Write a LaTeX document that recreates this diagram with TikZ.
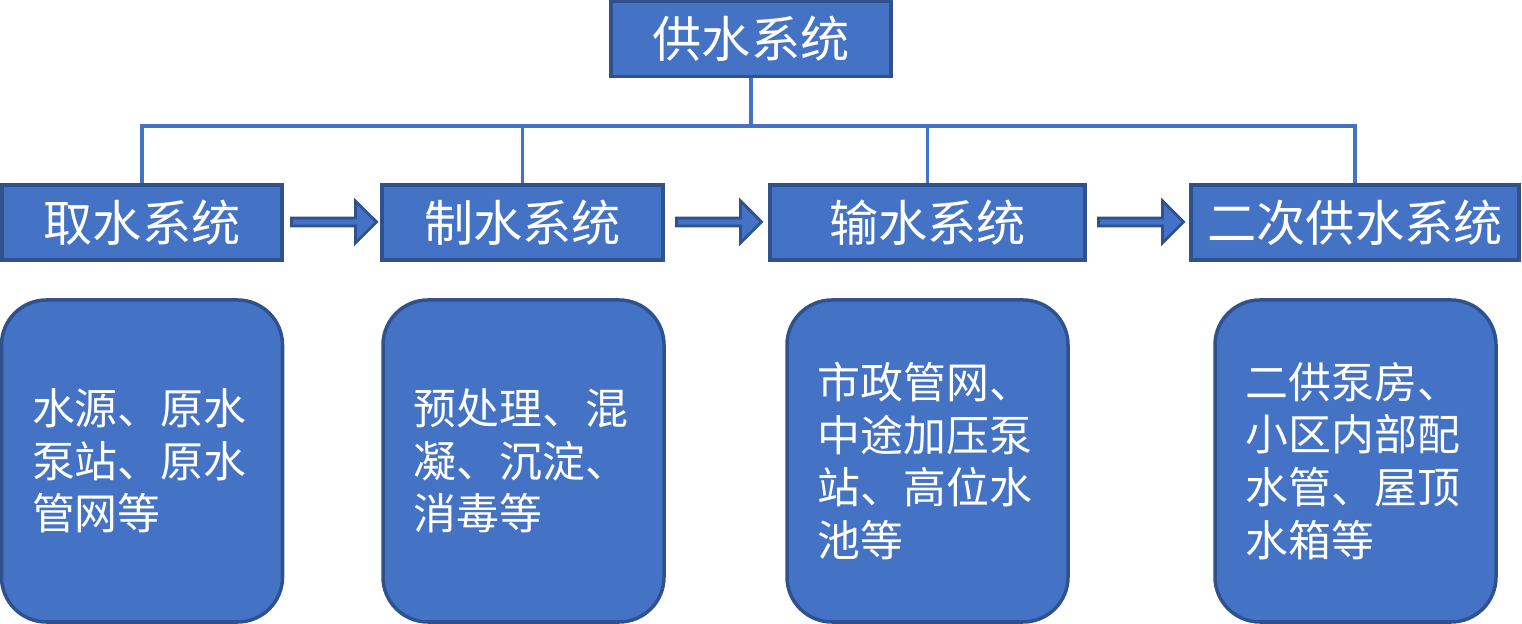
\documentclass[tikz,border=0pt]{standalone}
\usepackage{fontspec}
\newfontfamily\cjk{Noto Sans CJK SC}
\usetikzlibrary{positioning, shapes.arrows}
\definecolor{boxblue}{HTML}{4472C4}
\definecolor{edgeblue}{HTML}{2F528F}
\begin{document}
\begin{tikzpicture}[font=\cjk, sys node/.style={rectangle, draw=edgeblue, fill=boxblue, line width=1pt, text=white, minimum height=0.75cm, inner sep=0pt, font=\cjk\fontsize{14pt}{16pt}\selectfont},
    info node/.style={rectangle, rounded corners=0.45cm, draw=edgeblue, fill=boxblue, line width=1pt, text=white, minimum width=2.81cm, minimum height=3.22cm, text width=2.2cm, align=left, font=\cjk\fontsize{12.2pt}{15pt}\selectfont},
    flow arrow/.style={single arrow, draw=edgeblue, fill=boxblue, line width=0.8pt, minimum height=0.85cm, minimum width=0.42cm, single arrow head extend=0.06cm, inner sep=0pt},
    bus line/.style={draw=boxblue, line width=0.9pt}]
\useasboundingbox (0,0) rectangle (15.22,6.24);
\node[sys node, minimum width=2.8cm] (top) at (7.51,5.85) {供水系统};
\coordinate (bus) at (7.51,4.98);
\node[sys node, minimum width=2.8cm] (qu) at (1.42,4.015) {取水系统};
\node[sys node, minimum width=2.81cm] (zhi) at (5.225,4.015) {制水系统};
\node[sys node, minimum width=3.15cm] (shu) at (9.275,4.015) {输水系统};
\node[sys node, minimum width=3.28cm] (erci) at (13.55,4.015) {二次供水系统};
\draw[bus line] (top.south) -- (bus);
\foreach \n in {qu, zhi, shu, erci}
    \draw[bus line] (\n.north) |- (bus);
\node[flow arrow] (a1) at (3.32,4.02) {};
\node[flow arrow] (a2) at (7.17,4.02) {};
\node[flow arrow] (a3) at (11.39,4.02) {};
\node[info node] (qu info) at (1.42,1.63) {水源、原水\\泵站、原水\\管网等};
\node[info node] (zhi info) at (5.235,1.63) {预处理、混\\凝、沉淀、\\消毒等};
\node[info node] (shu info) at (9.275,1.63) {市政管网、\\中途加压泵\\站、高位水\\池等};
\node[info node] (erci info) at (13.555,1.63) {二供泵房、\\小区内部配\\水管、屋顶\\水箱等};
\end{tikzpicture}
\end{document}
